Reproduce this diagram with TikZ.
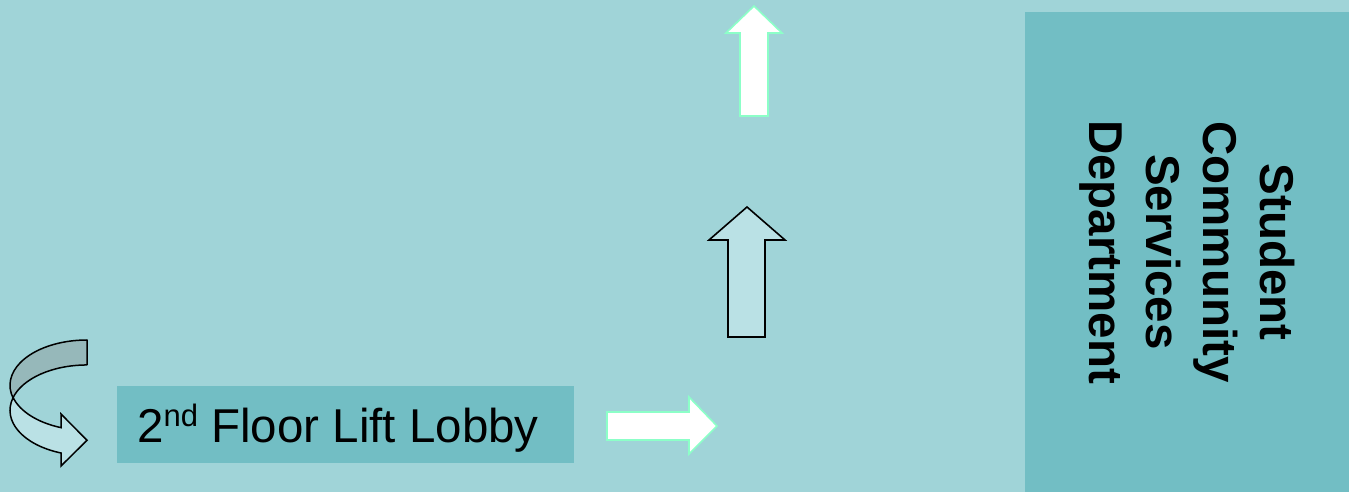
\documentclass[tikz,border=0pt]{standalone}
\usepackage{fontspec}
\setmainfont{Liberation Sans}
\definecolor{bgteal}{RGB}{160,212,216}
\definecolor{boxteal}{RGB}{114,190,196}
\definecolor{mint}{RGB}{140,255,200}
\definecolor{lightfill}{RGB}{186,225,229}
\definecolor{grayfill}{RGB}{150,184,186}
\tikzset{
  tealbox/.style={fill=boxteal, draw=none, inner sep=0pt, outer sep=0pt},
  whitearrow/.style={fill=white, draw=mint, line width=1.6pt, line join=miter},
  lightarrow/.style={fill=lightfill, draw=black, line width=1.6pt, line join=miter},
  grayband/.style={fill=grayfill, draw=black, line width=1.5pt, line join=round},
  lightband/.style={fill=lightfill, draw=black, line width=1.5pt, line join=miter},
}
\begin{document}
\begin{tikzpicture}[x=1pt,y=1pt]
\useasboundingbox (0,0) rectangle (1349,492);
\fill[bgteal] (0,0) rectangle (1349,492);
% right department box
\node[tealbox, minimum width=324pt, minimum height=480pt, anchor=south west] (dept) at (1025,0) {};
\node[rotate=-90, align=center, font=\bfseries\fontsize{47.5}{57}\selectfont] (depttext) at (dept.center) {Student\\Community\\Services\\Department};
% lobby box
\node[tealbox, minimum width=457pt, minimum height=77pt, anchor=south west] (lobby) at (117,29) {};
\node[anchor=base west, inner sep=0pt, font=\fontsize{47.5}{57}\selectfont] (lobbytext) at (137,49) {2\raisebox{16pt}{\fontsize{31}{31}\selectfont nd} Floor Lift Lobby};
% right arrow
\draw[whitearrow] (607,52) -- (689,52) -- (689,38) -- (717,66) -- (689,95) -- (689,80) -- (607,80) -- cycle;
% middle up arrow
\draw[lightarrow] (728,155) -- (765,155) -- (765,252) -- (785,252) -- (747,285) -- (709,252) -- (728,252) -- cycle;
% top up arrow
\draw[whitearrow] (740,376) -- (768,376) -- (768,459) -- (782,459) -- (754,486) -- (726,459) -- (740,459) -- cycle;
% curved arrow: grey back band
\draw[grayband] (87,152) arc[start angle=90,end angle=196,x radius=77,y radius=45.3]
  arc[start angle=164,end angle=90,x radius=77,y radius=45.3] -- cycle;
% curved arrow: light front band with head
\draw[lightband] (13.1,94.5) arc[start angle=196,end angle=250.26,x radius=77,y radius=45.3]
  -- (61,78) -- (87,51.7) -- (61,26) -- (61,39)
  arc[start angle=250.26,end angle=164,x radius=77,y radius=45.3] -- cycle;
\end{tikzpicture}
\end{document}
